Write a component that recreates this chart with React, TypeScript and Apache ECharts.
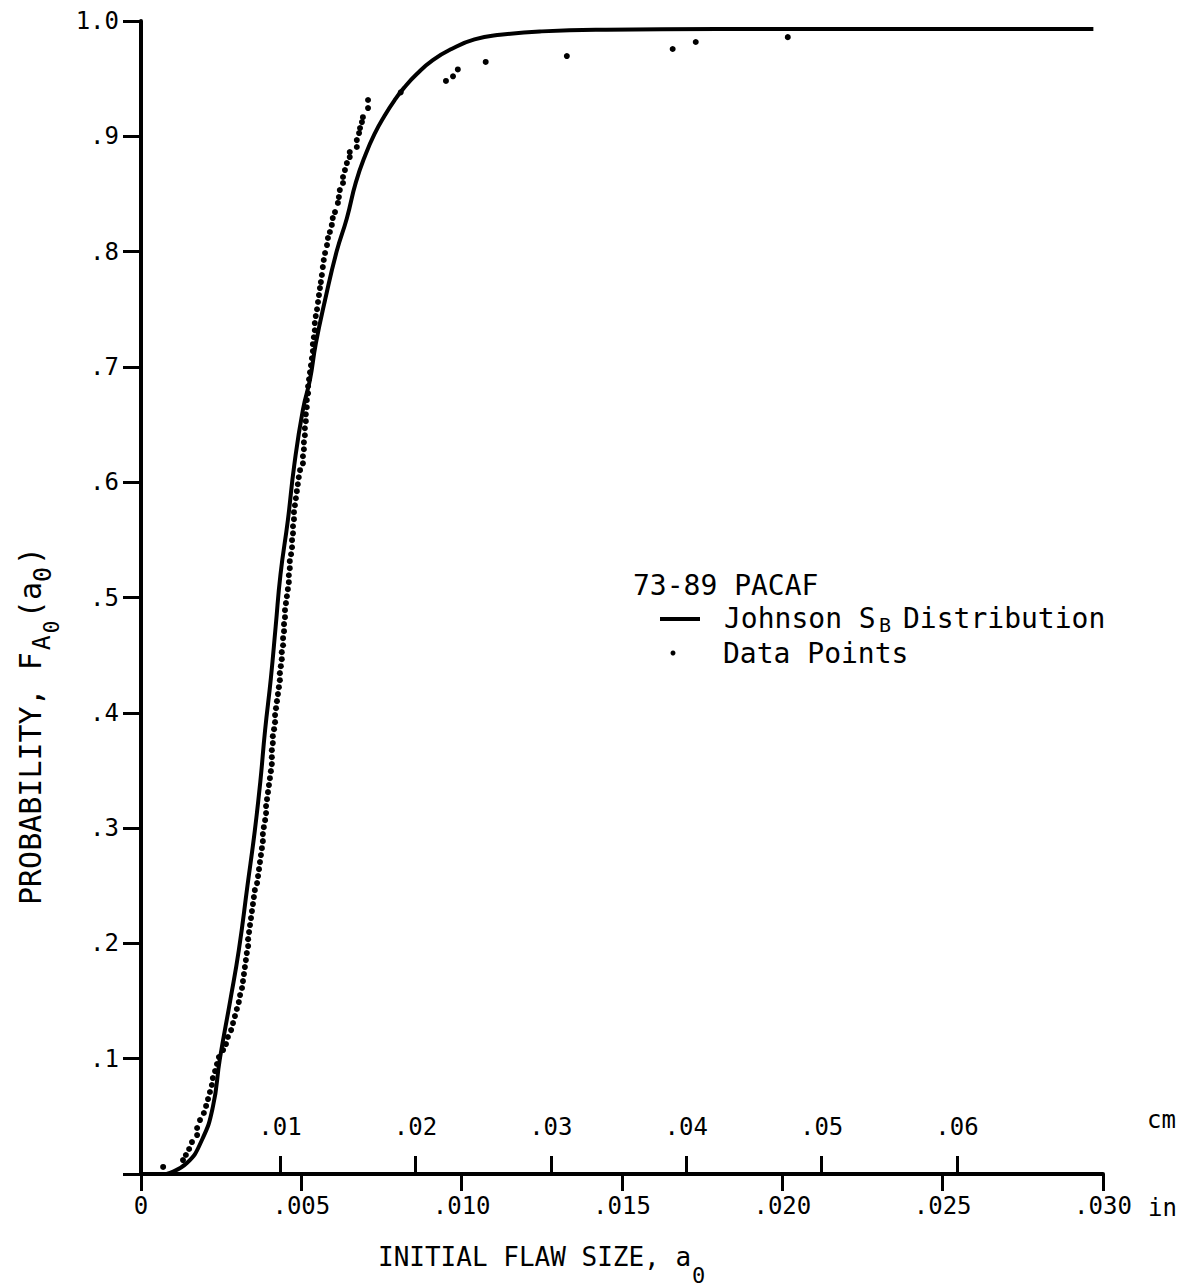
import React, { useEffect, useRef } from 'react';
import * as echarts from 'echarts';

// Johnson S_B distribution curve
const curveX = [0.0008, 0.00143, 0.0019, 0.00224, 0.00246, 0.00278, 0.00305, 0.00332, 0.00355, 0.00372, 0.00387, 0.00405, 0.0042, 0.00435, 0.00458, 0.00478, 0.00505, 0.00527, 0.00545, 0.00574, 0.0061, 0.00642, 0.0067, 0.007, 0.0073, 0.0076, 0.0079, 0.0082, 0.0086, 0.0091, 0.0097, 0.0104, 0.0112, 0.0125, 0.0145, 0.018, 0.0297];
const curveP = [0, 0.0095, 0.0295, 0.058, 0.1, 0.15, 0.194, 0.25, 0.298, 0.34, 0.385, 0.43, 0.475, 0.52, 0.567, 0.615, 0.663, 0.689, 0.72, 0.758, 0.8, 0.829, 0.86, 0.884, 0.903, 0.918, 0.931, 0.942, 0.954, 0.966, 0.976, 0.984, 0.988, 0.991, 0.9925, 0.993, 0.993];

// Data points
const dataX = [
  0.00708, 0.00708, 0.00692, 0.00689, 0.00683, 0.0068, 0.00673, 0.00673, 0.00651, 0.00651,
  0.00642, 0.00636, 0.0063, 0.0063, 0.0062, 0.00617, 0.00614, 0.00605, 0.00598, 0.00595,
  0.00589, 0.00583, 0.0058, 0.00574, 0.0057, 0.00567, 0.00564, 0.00561, 0.00558, 0.00555,
  0.00552, 0.00549, 0.00545, 0.00542, 0.00542, 0.00539, 0.00536, 0.00536, 0.00533, 0.0053,
  0.00527, 0.00524, 0.00521, 0.00521, 0.00517, 0.00517, 0.00514, 0.00514, 0.00511, 0.00511,
  0.00508, 0.00508, 0.00505, 0.00505, 0.00496, 0.00492, 0.00489, 0.00486, 0.00483, 0.0048,
  0.00477, 0.00477, 0.00474, 0.00474, 0.00471, 0.00471, 0.00468, 0.00464, 0.00464, 0.00461,
  0.00461, 0.00458, 0.00455, 0.00452, 0.00449, 0.00449, 0.00446, 0.00446, 0.00443, 0.00443,
  0.00439, 0.00439, 0.00436, 0.00433, 0.00433, 0.0043, 0.00427, 0.00424, 0.00421, 0.00418,
  0.00418, 0.00415, 0.00411, 0.00411, 0.00408, 0.00408, 0.00408, 0.00405, 0.00402, 0.00399,
  0.00396, 0.00393, 0.0039, 0.0039, 0.00387, 0.00383, 0.0038, 0.0038, 0.00377, 0.00374,
  0.00371, 0.00368, 0.00365, 0.00362, 0.00355, 0.00352, 0.00349, 0.00346, 0.00343, 0.0034,
  0.00337, 0.00334, 0.00334, 0.0033, 0.00327, 0.00324, 0.00321, 0.00318, 0.00315, 0.00309,
  0.00305, 0.00299, 0.00293, 0.00287, 0.00281, 0.00271, 0.00265, 0.00256, 0.00243, 0.00237,
  0.00231, 0.00224, 0.00221, 0.00215, 0.00209, 0.00203, 0.00196, 0.00184, 0.00175, 0.00175,
  0.00159, 0.0015, 0.0014, 0.00131, 0.00069,
  0.0081, 0.00951, 0.00973, 0.00988, 0.01075, 0.01328, 0.01658, 0.0173, 0.02017
];
const dataP = [
  0.9315, 0.9245, 0.9166, 0.9123, 0.9071, 0.9028, 0.8967, 0.8907, 0.8863, 0.882,
  0.8768, 0.8707, 0.8647, 0.8595, 0.8534, 0.8473, 0.8422, 0.8343, 0.8291, 0.8231,
  0.817, 0.8118, 0.8057, 0.7988, 0.7927, 0.7866, 0.7797, 0.7736, 0.7684, 0.7623,
  0.7563, 0.75, 0.7441, 0.738, 0.7318, 0.7257, 0.7197, 0.7137, 0.7075, 0.7014,
  0.6953, 0.6893, 0.6832, 0.6771, 0.6711, 0.665, 0.6589, 0.6529, 0.6468, 0.6407,
  0.6346, 0.6286, 0.6225, 0.6164, 0.6104, 0.6043, 0.5982, 0.5922, 0.5861, 0.58,
  0.574, 0.5679, 0.5618, 0.5557, 0.5497, 0.5436, 0.5375, 0.5315, 0.5254, 0.5193,
  0.5133, 0.5072, 0.5011, 0.4951, 0.489, 0.4829, 0.4769, 0.4708, 0.4647, 0.4586,
  0.4526, 0.4465, 0.4404, 0.4344, 0.4283, 0.4222, 0.4162, 0.4101, 0.404, 0.398,
  0.3919, 0.3858, 0.3797, 0.3737, 0.3676, 0.3615, 0.3555, 0.3494, 0.3433, 0.3373,
  0.3312, 0.3251, 0.3191, 0.313, 0.3069, 0.3008, 0.2948, 0.2887, 0.2826, 0.2766,
  0.2705, 0.2644, 0.2584, 0.2523, 0.2462, 0.2402, 0.2341, 0.228, 0.222, 0.2159,
  0.2098, 0.2037, 0.1977, 0.1916, 0.1855, 0.1795, 0.1734, 0.1673, 0.1613, 0.1552,
  0.1491, 0.1431, 0.137, 0.1309, 0.1248, 0.1188, 0.1127, 0.1075, 0.1014, 0.0954,
  0.0893, 0.0832, 0.0772, 0.0711, 0.065, 0.059, 0.0529, 0.0468, 0.0399, 0.0338,
  0.0277, 0.0217, 0.0165, 0.0121, 0.0061,
  0.9381, 0.948, 0.952, 0.958, 0.9645, 0.9696, 0.9757, 0.9818, 0.986
];

// Tick labels
const inTickLabels = ['0', '.005', '.010', '.015', '.020', '.025', '.030'];
const cmTickValues = [0.01, 0.02, 0.03, 0.04, 0.05, 0.06];
const cmTickLabels = ['.01', '.02', '.03', '.04', '.05', '.06'];
const yTickLabels = ['', '.1', '.2', '.3', '.4', '.5', '.6', '.7', '.8', '.9', '1.0'];

const FONT = 'DejaVu Sans Mono';
const INK = '#000';

export default function App() {
  const ref = useRef<HTMLDivElement>(null);
  useEffect(() => {
    const chart = echarts.init(ref.current as HTMLDivElement, null, { renderer: 'svg' });
    const txt = (text: string, x: number, y: number, size: number, extra: any = {}) => ({
      type: 'text',
      x,
      y,
      style: { text, fill: INK, font: `${size}px "${FONT}"`, textVerticalAlign: 'middle', textAlign: 'left', ...extra },
    });
    const ySize = 30;
    const charW = ySize * 0.602;
    const yTitleMain = 'PROBABILITY, F';
    const aSub = yTitleMain.length * charW;
    chart.setOption({
      animation: false,
      backgroundColor: '#fff',
      grid: { left: 141, top: 21, width: 962, height: 1153, containLabel: false },
      xAxis: [
        {
          type: 'value',
          min: 0,
          max: 0.03,
          interval: 0.005,
          position: 'bottom',
          axisLine: { show: true, onZero: false, lineStyle: { color: INK, width: 4 } },
          axisTick: { show: true, length: 17, lineStyle: { color: INK, width: 3 } },
          axisLabel: {
            margin: 20,
            fontSize: 24,
            fontFamily: FONT,
            color: INK,
            formatter: (v: number) => inTickLabels[Math.round(v / 0.005)] ?? '',
          },
          splitLine: { show: false },
        },
        {
          type: 'value',
          min: -0.000266,
          max: 0.07078,
          position: 'bottom',
          axisLine: { show: false },
          axisTick: { show: true, inside: true, length: 18, customValues: cmTickValues, lineStyle: { color: INK, width: 3 } },
          axisLabel: {
            inside: true,
            margin: 35,
            fontSize: 24,
            fontFamily: FONT,
            color: INK,
            customValues: cmTickValues,
            formatter: (v: number) => cmTickLabels[Math.round(v * 100) - 1] ?? '',
          },
          splitLine: { show: false },
        },
      ],
      yAxis: {
        type: 'value',
        min: 0,
        max: 1,
        interval: 0.1,
        axisLine: { show: true, onZero: false, lineStyle: { color: INK, width: 4 } },
        axisTick: { show: true, length: 18, lineStyle: { color: INK, width: 3 } },
        axisLabel: {
          margin: 22,
          fontSize: 24,
          fontFamily: FONT,
          color: INK,
          formatter: (v: number) => yTickLabels[Math.round(v * 10)] ?? '',
        },
        splitLine: { show: false },
      },
      series: [
        {
          type: 'line',
          name: 'Johnson SB Distribution',
          xAxisIndex: 0,
          data: curveX.map((x, i) => [x, curveP[i]]),
          showSymbol: false,
          smooth: 0.5,
          lineStyle: { color: INK, width: 4 },
          z: 3,
        },
        {
          type: 'scatter',
          name: 'Data Points',
          xAxisIndex: 0,
          data: dataX.map((x, i) => [x, dataP[i]]),
          symbol: 'circle',
          symbolSize: 6,
          itemStyle: { color: INK, opacity: 1 },
          z: 4,
        },
      ],
      graphic: [
        txt('in', 1148, 1208, 24),
        txt('cm', 1147, 1120, 24),
        txt('INITIAL FLAW SIZE, a', 378, 1257, 26),
        txt('0', 692, 1275, 22),
        txt('73-89 PACAF', 633, 585, 28),
        { type: 'line', shape: { x1: 660, y1: 619, x2: 700, y2: 619 }, style: { stroke: INK, lineWidth: 4 } },
        txt('Johnson S', 724, 618, 28),
        txt('B', 879, 625, 20),
        txt('Distribution', 903, 618, 28),
        { type: 'circle', shape: { cx: 673, cy: 653, r: 2.5 }, style: { fill: INK } },
        txt('Data Points', 723, 653, 28),
        {
          type: 'group',
          x: 30,
          y: 905,
          rotation: Math.PI / 2,
          children: [
            txt(yTitleMain, 0, 0, ySize),
            txt('A', aSub + 2, 11, 25),
            txt('0', aSub + 19, 22, 21),
            txt('(a', aSub + 34, 0, ySize),
            txt('0', aSub + 34 + 2 * charW, 12, 25),
            txt(')', aSub + 34 + 2 * charW + 17, 0, ySize),
          ],
        },
      ],
    });
    return () => chart.dispose();
  }, []);
  return (
    <div
      ref={ref}
      style={{ position: 'absolute', left: 0, top: 0, width: 1188, height: 1288, background: '#fff' }}
    />
  );
}
